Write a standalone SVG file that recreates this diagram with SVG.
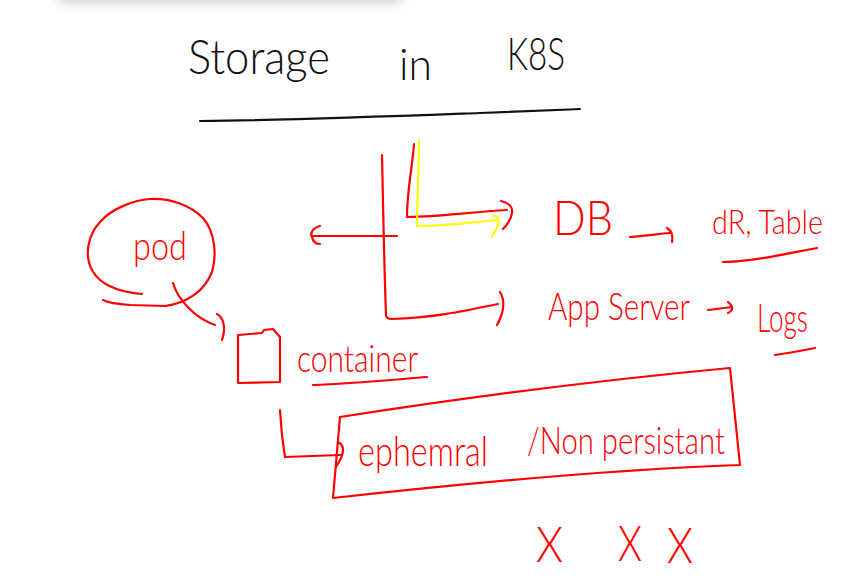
<svg xmlns="http://www.w3.org/2000/svg" width="865" height="580" viewBox="0 0 865 580">
<style>
.ink{fill:none;stroke:#ff0000;stroke-width:2.2;stroke-linecap:round;stroke-linejoin:round}
.blk{fill:none;stroke:#111;stroke-width:2.2;stroke-linecap:round;stroke-linejoin:round}
.yel{fill:none;stroke:#ffff00;stroke-width:2.2;stroke-linecap:round;stroke-linejoin:round}
.t{font-family:Lato,"Liberation Sans",sans-serif;font-weight:300;fill:#ff0000}
.tb{font-family:Lato,"Liberation Sans",sans-serif;font-weight:300;fill:#111}
</style>
<defs>
<filter id="sh" x="-20%" y="-100%" width="140%" height="300%"><feGaussianBlur stdDeviation="6"/></filter>
</defs>
<rect width="865" height="580" fill="#fff"/>
<rect x="55" y="-34" width="350" height="36" rx="12" fill="#c8c8c8" filter="url(#sh)"/>

<g id="title">
<text class="tb" x="188" y="74" font-size="48" textLength="142" lengthAdjust="spacingAndGlyphs">Storage</text>
<text class="tb" x="399" y="80" font-size="44" textLength="33" lengthAdjust="spacingAndGlyphs">in</text>
<text class="tb" x="507" y="70" font-size="46" textLength="58" lengthAdjust="spacingAndGlyphs">K8S</text>
<path class="blk" d="M200 121 C300 120 400 116 480 113 S560 110 580 109"/>
</g>

<g id="pod">
<path class="ink" d="M142 294 C118 292 100 285 92 270 C84 255 88 235 100 222 C112 208 135 200 150 199 C170 198 190 205 203 218 C215 232 217 255 212 272 C205 290 188 303 165 306 L130 305 C115 304 107 302 103 300"/>
<text class="t" x="133" y="260" font-size="40" textLength="54" lengthAdjust="spacingAndGlyphs">pod</text>
</g>

<g id="container">
<path class="ink" d="M238 335 L262 333 L264 330 L273 329 L280 337 L280 382 L238 383 Z"/>
<text class="t" x="297" y="372" font-size="38" textLength="121" lengthAdjust="spacingAndGlyphs">container</text>
<path class="ink" d="M313 385 C350 384 390 380 427 377"/>
</g>

<g id="ephemeral">
<path class="ink" d="M340 417 C450 400 600 380 730 368 L740 465 C600 470 450 485 333 498 Z"/>
<text class="t" x="358" y="466" font-size="42" textLength="130" lengthAdjust="spacingAndGlyphs">ephemral</text>
<text class="t" x="527" y="454" font-size="38" textLength="198" lengthAdjust="spacingAndGlyphs">/Non persistant</text>
</g>

<g id="db">
<text class="t" x="553" y="235" font-size="48" textLength="60" lengthAdjust="spacingAndGlyphs">DB</text>
</g>

<g id="dbTable">
<text class="t" x="712" y="234" font-size="34" textLength="111" lengthAdjust="spacingAndGlyphs">dR, Table</text>
<path class="ink" d="M723 262 C750 262 780 255 817 248"/>
</g>

<g id="appServer">
<text class="t" x="548" y="320" font-size="37" textLength="142" lengthAdjust="spacingAndGlyphs">App Server</text>
</g>

<g id="logs">
<text class="t" x="757" y="332" font-size="40" textLength="51" lengthAdjust="spacingAndGlyphs">Logs</text>
<path class="ink" d="M775 355 C790 353 805 350 815 348"/>
</g>

<g id="marks">
<text class="t" x="536" y="562" font-size="50" textLength="27" lengthAdjust="spacingAndGlyphs">X</text>
<text class="t" x="618" y="561" font-size="50" textLength="24" lengthAdjust="spacingAndGlyphs">X</text>
<text class="t" x="667" y="563" font-size="50" textLength="26" lengthAdjust="spacingAndGlyphs">X</text>
</g>

<g id="connectors">
<path class="ink" d="M173 283 C178 300 195 318 215 325"/>
<path class="ink" d="M217 314 C224 318 226 328 222 340"/>
<path class="ink" d="M280 410 C281 430 283 445 285 457 L340 455"/>
<path class="ink" d="M338 442 C344 445 346 452 336 467"/>
<path class="ink" d="M382 155 C383 200 384 260 386 315 C386 318 388 319 392 319 C430 318 460 312 498 304"/>
<path class="ink" d="M500 292 C505 300 504 312 497 325"/>
<path class="ink" d="M397 236 L312 236"/>
<path class="ink" d="M320 226 C312 228 310 234 312 237 C313 242 316 244 320 244"/>
<path class="ink" d="M414 144 C412 170 407 190 407 217 C440 217 470 212 507 210"/>
<path class="ink" d="M501 201 C510 203 513 208 512 213 C511 220 507 225 503 229"/>
<path class="yel" d="M419 140 C419 170 417 200 417 226 C450 226 470 222 498 220"/>
<path class="yel" d="M493 216 C498 216 500 220 498 225 C496 230 494 233 492 237"/>
<path class="ink" d="M630 237 C645 236 658 234 670 233"/>
<path class="ink" d="M667 228 C672 231 673 237 672 242"/>
<path class="ink" d="M708 310 L732 307"/>
<path class="ink" d="M728 302 C733 306 734 310 728 313"/>
</g>
</svg>
